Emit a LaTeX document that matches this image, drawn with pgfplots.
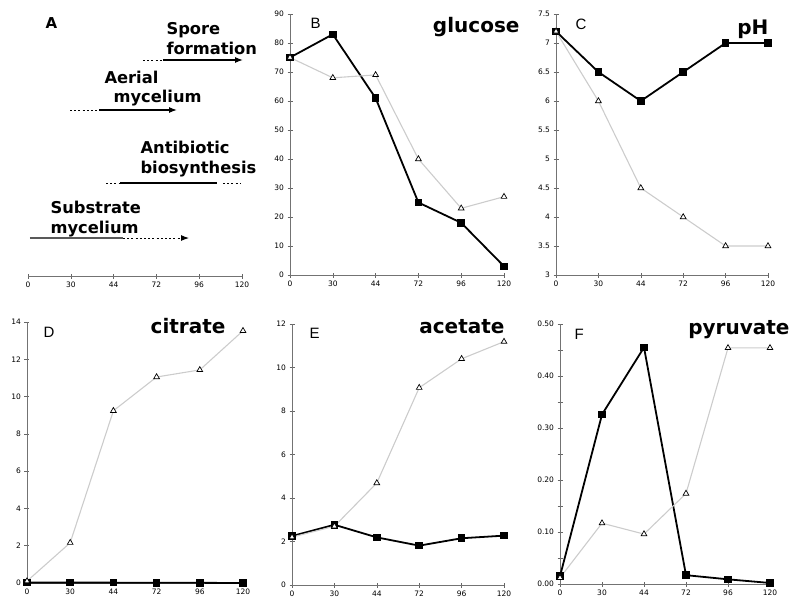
\documentclass[border=0pt]{standalone}
\usepackage{fontspec}
\setmainfont{DejaVu Sans}
\newfontfamily\lightfont{Liberation Sans}
\usepackage{pgfplots}
\pgfplotsset{compat=1.18}
\usetikzlibrary{arrows.meta}
\pgfplotsset{
 panel/.style={
  scale only axis, anchor=south west,
  axis x line=bottom, axis y line=left,
  axis line style={black!55, line width=0.8pt, -},
  tick style={black!60, line width=0.6pt},
  tick align=center, major tick length=5pt, minor tick length=5pt,
  xmin=0, xmax=5, xtick={0,...,5}, xticklabels={0,30,44,72,96,120},
  tick label style={font=\fontsize{7.5}{8.5}\selectfont},
  /pgf/number format/assume math mode=true,
  clip=false,
 },
 blk/.style={black, line width=1.8pt, mark=square*, mark size=2.9pt, mark options={solid,fill=black}},
 gry/.style={black!20, line width=1.1pt, mark=triangle*, mark size=3.3pt, mark options={solid, draw=black, fill=white, line width=0.7pt}},
}
\tikzset{
 ttl/.style={anchor=base east, font=\bfseries\fontsize{20}{22}\selectfont},
 lett/.style={anchor=base west, font=\lightfont\fontsize{15}{17}\selectfont},
 atxt/.style={anchor=base west, font=\bfseries\fontsize{16.3}{18}\selectfont},
 dsh/.style={black, line width=1pt, dash pattern=on 2pt off 2.2pt},
 sol/.style={black, line width=1.2pt},
}
\begin{document}
\begin{tikzpicture}
\path[use as bounding box] (0,0) rectangle (800pt,-614pt);

% Panel A
\begin{axis}[panel, at={(28pt,-276pt)}, width=214pt, height=262pt,
  axis y line=none, xmin=0, xmax=214, ymin=0, ymax=262,
  xtick={0,42.8,85.6,128.4,171.2,214}, xticklabels={0,30,44,72,96,120}]
\addplot[dsh] coordinates {(115,216) (135,216)};
\addplot[sol, -{Latex[length=8pt,width=6pt]}] coordinates {(135,216) (215,216)};
\addplot[dsh] coordinates {(42,166) (71,166)};
\addplot[sol, -{Latex[length=8pt,width=6pt]}] coordinates {(71,166) (149,166)};
\addplot[dsh] coordinates {(78,93) (92,93)};
\addplot[sol] coordinates {(92,93) (189,93)};
\addplot[dsh] coordinates {(195,93) (212,93)};
\addplot[black!65, line width=1.3pt] coordinates {(2,38) (95,38)};
\addplot[dsh, -{Latex[length=8pt,width=6pt]}] coordinates {(95,38) (161,38)};
\node[atxt, font=\bfseries\fontsize{15}{17}\selectfont] at (axis cs:14,248) {A};
\node[atxt] at (axis cs:135,242) {Spore};
\node[atxt] at (axis cs:135,222) {formation};
\node[atxt] at (axis cs:73,193) {Aerial};
\node[atxt] at (axis cs:82,174) {mycelium};
\node[atxt] at (axis cs:109,123) {Antibiotic};
\node[atxt] at (axis cs:109,103) {biosynthesis};
\node[atxt] at (axis cs:19,63) {Substrate};
\node[atxt] at (axis cs:19,43) {mycelium};
\end{axis}

% Panel B glucose
\begin{axis}[panel, at={(290pt,-275pt)}, width=214pt, height=261pt,
  ymin=0, ymax=90, ytick={0,10,...,90}]
\addplot[blk] coordinates {(0,75) (1,83) (2,61) (3,25) (4,18) (5,3)};
\addplot[gry] coordinates {(0,75) (1,68) (2,69) (3,40) (4,23) (5,27)};
\end{axis}
\node[ttl] at (523pt,-32pt) {glucose};
\node[lett] at (307pt,-28pt) {B};

% Panel C pH
\begin{axis}[panel, at={(556pt,-275pt)}, width=212pt, height=261pt,
  ymin=3, ymax=7.5, ytick={3,3.5,...,7.5}]
\addplot[blk] coordinates {(0,7.2) (1,6.5) (2,6.0) (3,6.5) (4,7.0) (5,7.0)};
\addplot[gry] coordinates {(0,7.2) (1,6.0) (2,4.5) (3,4.0) (4,3.5) (5,3.5)};
\end{axis}
\node[ttl] at (772pt,-34pt) {pH};
\node[lett] at (572pt,-29pt) {C};

% Panel D citrate
\begin{axis}[panel, at={(27pt,-583pt)}, width=216pt, height=261pt,
  ymin=0, ymax=14, ytick={0,2,...,14}]
\addplot[blk] coordinates {(0,0.02) (1,0.02) (2,0.02) (3,0.01) (4,0.01) (5,0.0)};
\addplot[gry] coordinates {(0,0.1) (1,2.16) (2,9.24) (3,11.05) (4,11.43) (5,13.53)};
\end{axis}
\node[ttl] at (229pt,-333pt) {citrate};
\node[lett] at (40pt,-337pt) {D};

% Panel E acetate
\begin{axis}[panel, at={(292pt,-585pt)}, width=212pt, height=261pt,
  ymin=0, ymax=12, ytick={0,2,...,12}]
\addplot[blk] coordinates {(0,2.25) (1,2.77) (2,2.19) (3,1.81) (4,2.15) (5,2.27)};
\addplot[gry] coordinates {(0,2.2) (1,2.7) (2,4.69) (3,9.07) (4,10.4) (5,11.19)};
\end{axis}
\node[ttl] at (508pt,-333pt) {acetate};
\node[lett] at (306pt,-338pt) {E};

% Panel F pyruvate
\begin{axis}[panel, at={(560pt,-584pt)}, width=210pt, height=260pt,
  ymin=0, ymax=0.5, ytick={0,0.1,...,0.5}, minor ytick={0.05,0.15,...,0.45},
  yticklabel style={/pgf/number format/.cd, fixed, fixed zerofill, precision=2}]
\addplot[blk] coordinates {(0,0.015) (1,0.326) (2,0.455) (3,0.017) (4,0.009) (5,0.002)};
\addplot[gry] coordinates {(0,0.012) (1,0.117) (2,0.096) (3,0.174) (4,0.454) (5,0.454)};
\end{axis}
\node[ttl] at (793pt,-334pt) {pyruvate};
\node[lett] at (571pt,-339pt) {F};
\end{tikzpicture}
\end{document}
